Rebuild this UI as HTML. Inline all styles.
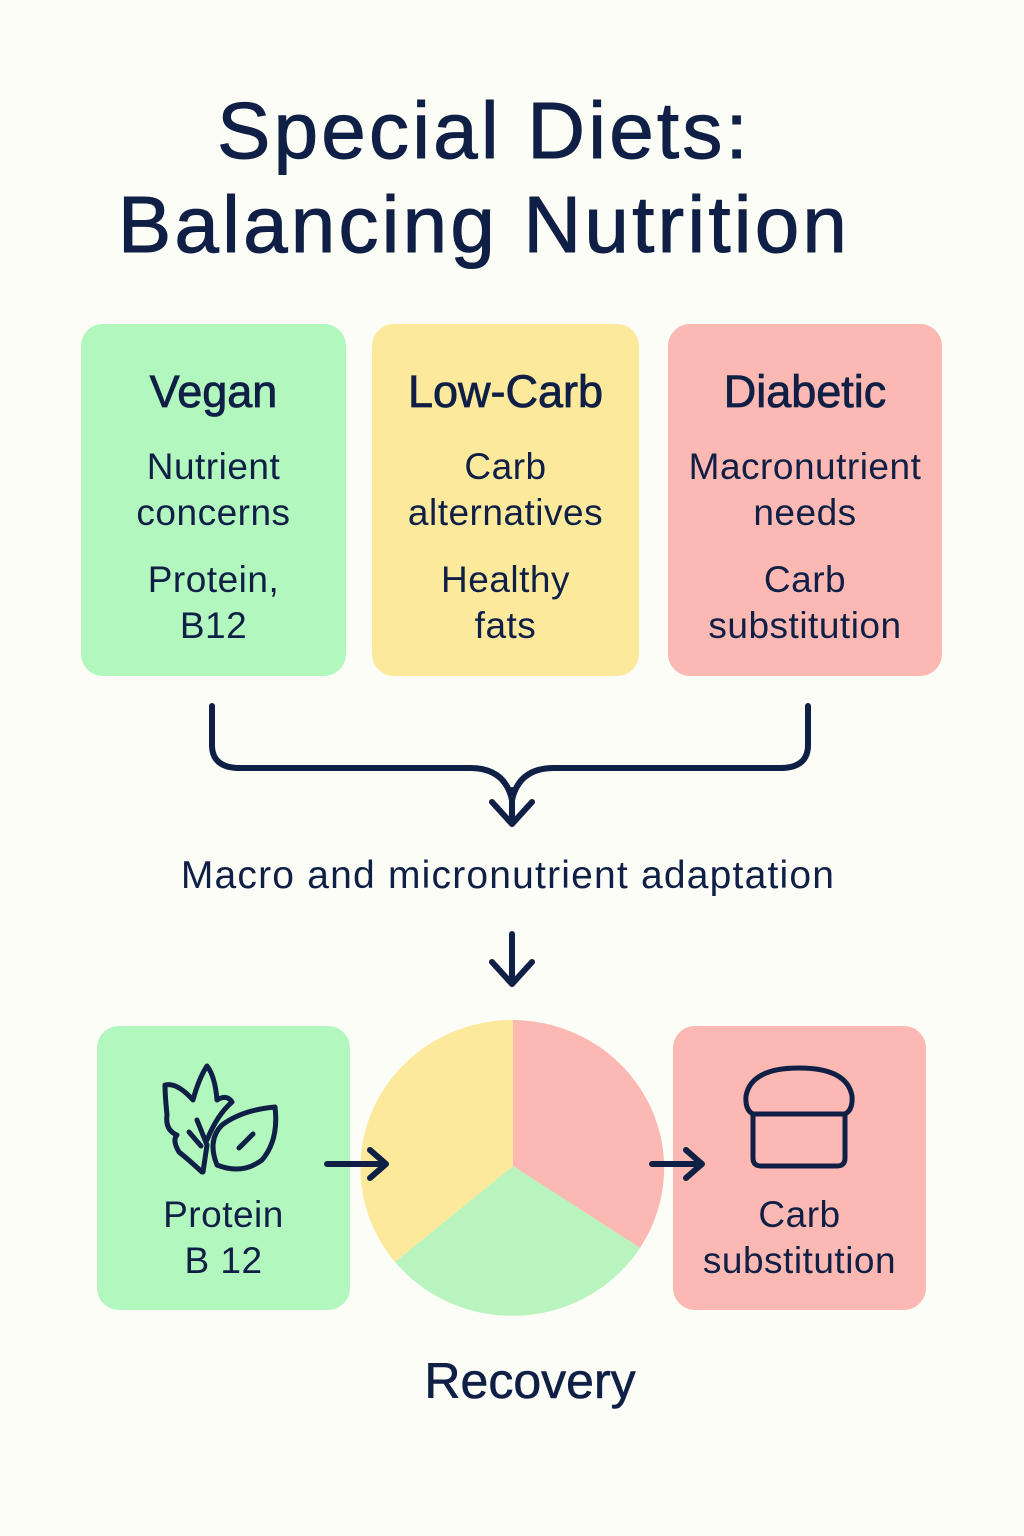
<!DOCTYPE html>
<html><head><meta charset="utf-8"><style>
body{margin:0;width:1024px;height:1536px;background:#fdfdf8;font-family:"Liberation Sans",sans-serif;color:#0f1f45;position:relative;overflow:hidden}
.t{position:absolute;left:0;width:1024px;text-align:center}
.box{position:absolute;border-radius:22px;text-align:center}
.h{font-size:45px;position:absolute;left:0;right:0;-webkit-text-stroke:0.8px #0f1f45}
.s{font-size:37px;line-height:46px;position:absolute;left:0;right:0;letter-spacing:0.5px}
</style></head><body>
<div class="t" style="top:84px;font-size:80px;line-height:94px;left:-28px;letter-spacing:3.2px;-webkit-text-stroke:1px #0f1f45">Special Diets:<br>Balancing Nutrition</div>

<div class="box" style="left:81px;top:324px;width:265px;height:352px;background:#b2f7bd">
<div class="h" style="top:42px">Vegan</div>
<div class="s" style="top:120px">Nutrient<br>concerns</div>
<div class="s" style="top:233px">Protein,<br>B12</div></div>
<div class="box" style="left:372px;top:324px;width:267px;height:352px;background:#fce99c">
<div class="h" style="top:42px">Low-Carb</div>
<div class="s" style="top:120px">Carb<br>alternatives</div>
<div class="s" style="top:233px">Healthy<br>fats</div></div>
<div class="box" style="left:668px;top:324px;width:274px;height:352px;background:#fcb8b2">
<div class="h" style="top:42px">Diabetic</div>
<div class="s" style="top:120px">Macronutrient<br>needs</div>
<div class="s" style="top:233px">Carb<br>substitution</div></div>

<svg style="position:absolute;left:0;top:0" width="1024" height="1536">
<path d="M513 1020 A152 148 0 0 1 640 1248 L513 1166 Z" fill="#fcb8b2"/>
<path d="M640 1248 A152 148 0 0 1 395 1262 L513 1166 Z" fill="#b9f3bd"/>
<path d="M395 1262 A152 148 0 0 1 513 1020 L513 1166 Z" fill="#fce99c"/>
</svg>

<div class="box" style="left:97px;top:1026px;width:253px;height:284px;background:#b2f7bd">
<svg style="position:absolute;left:60px;top:34px" width="130" height="125"><g fill="none" stroke="#0f1f45" stroke-width="5" stroke-linecap="round" stroke-linejoin="round">
<path d="M45 112 Q32 100 22 92 Q15 80 20 75 Q8 70 10 55 Q8 35 8 25 Q20 22 36 40 Q42 18 50 6 Q58 16 60 40 Q70 34 75 42 Q60 55 50 80"/>
<path d="M60 105 Q50 80 65 65 Q85 50 118 47 Q122 80 105 100 Q85 115 60 105Z"/>
<path d="M82 88 L96 74"/>
<path d="M40 60 L50 85 L46 112 M32 72 L44 86"/>
</g></svg>
<div class="s" style="top:166px">Protein<br>B 12</div></div>

<div class="box" style="left:673px;top:1026px;width:253px;height:284px;background:#fcb8b2">
<svg style="position:absolute;left:68px;top:36px" width="120" height="112"><g fill="none" stroke="#0f1f45" stroke-width="5" stroke-linejoin="round">
<path d="M12 52 Q4 48 5 34 Q10 6 58 6 Q106 6 111 34 Q112 48 104 52 V96 Q104 104 96 104 H20 Q12 104 12 96 Z"/>
<path d="M12 52 H104"/></g></svg>
<div class="s" style="top:166px">Carb<br>substitution</div></div>

<svg style="position:absolute;left:0;top:0;z-index:5" width="1024" height="1536">
<g fill="none" stroke="#0f1f45" stroke-width="6" stroke-linecap="round" stroke-linejoin="round">
<path d="M212 706 V745 Q212 768 240 768 H470 Q505 768 512 800 Q519 768 554 768 H780 Q808 768 808 745 V706"/>
<path d="M512 790 V822 M492 802 L512 824 L532 802"/>
<path d="M512 934 V982 M492 962 L512 984 L532 962"/>
<path d="M327 1164 H384 M370 1150 L386 1164 L370 1178"/>
<path d="M652 1164 H700 M686 1150 L702 1164 L686 1178"/>
</g></svg>

<div class="t" style="top:854px;font-size:39px;left:-4px;letter-spacing:1.2px">Macro and micronutrient adaptation</div>
<div class="t" style="top:1352px;font-size:50px;left:18px;-webkit-text-stroke:0.6px #0f1f45">Recovery</div>
</body></html>
